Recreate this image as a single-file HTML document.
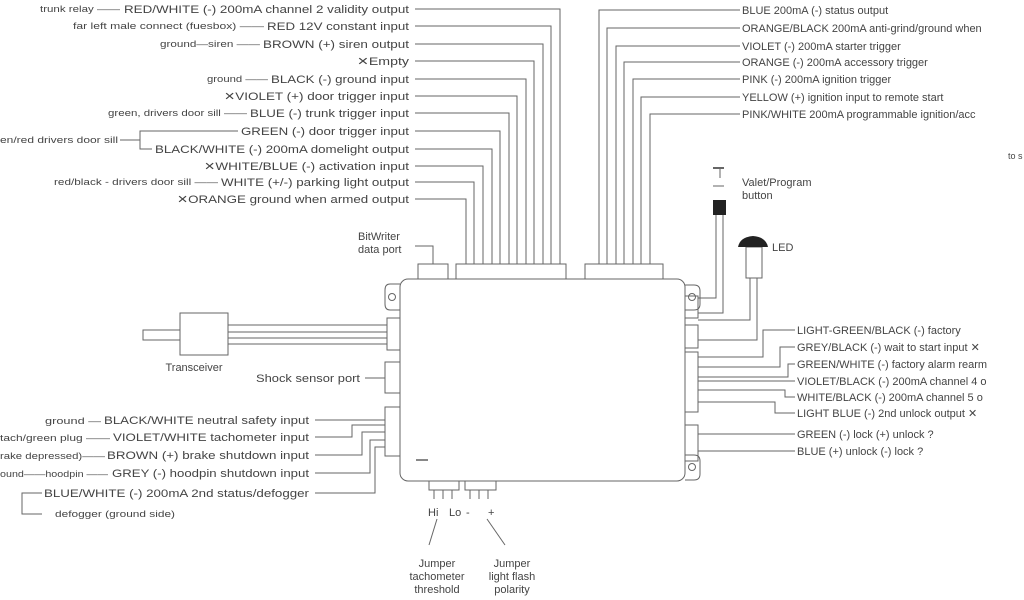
<!DOCTYPE html>
<html><head><meta charset="utf-8"><style>
html,body{margin:0;padding:0;background:#fff;}
svg{display:block;}
text{font-family:"Liberation Sans",sans-serif;fill:#444;}
.m{font-size:11px;}
.s{font-size:9px;}
</style></head><body>
<svg width="1024" height="600" viewBox="0 0 1024 600" xmlns="http://www.w3.org/2000/svg">
<g stroke="#666" stroke-width="1" fill="none">
<rect x="400" y="279" width="285" height="202" rx="8" fill="#fff"/>
<rect x="418" y="264" width="30" height="15"/>
<rect x="456" y="264" width="110" height="15"/>
<rect x="585" y="264" width="78" height="15"/>
<polyline points="415,246 433,246 433,264"/>
<path d="M400,284 H390 Q385,284 385,290 V304 Q385,310 390,310 H400"/>
<circle cx="392" cy="297" r="3.5"/>
<rect x="387" y="318" width="13" height="32"/>
<rect x="385" y="362" width="15" height="31"/>
<rect x="385" y="407" width="15" height="49"/>
<path d="M685,285 H694 Q700,285 700,291 V304 Q700,310 694,310 H685"/>
<circle cx="692" cy="297" r="3.5"/>
<path d="M685,455 H694 Q700,455 700,461 V474 Q700,480 694,480 H685"/>
<circle cx="692" cy="467" r="3.5"/>
<rect x="685" y="296" width="13" height="22"/>
<rect x="685" y="325" width="13" height="23"/>
<rect x="685" y="352" width="13" height="60"/>
<rect x="685" y="425" width="13" height="36"/>
<rect x="429" y="481" width="30" height="9"/>
<rect x="465" y="481" width="31" height="9"/>
<path d="M434,490V499 M443,490V499 M452,490V499 M470,490V499 M479,490V499 M488,490V499"/>
<path d="M437,519 L429,545 M487,519 L505,545"/>
<polyline points="415,9 560,9 560,264"/>
<polyline points="415,26 551,26 551,264"/>
<polyline points="415,44 543,44 543,264"/>
<polyline points="415,61 534,61 534,264"/>
<polyline points="415,79 526,79 526,264"/>
<polyline points="415,96 517,96 517,264"/>
<polyline points="415,113 509,113 509,264"/>
<polyline points="415,131 500,131 500,264"/>
<polyline points="415,149 492,149 492,264"/>
<polyline points="415,166 483,166 483,264"/>
<polyline points="415,182 474,182 474,264"/>
<polyline points="415,199 466,199 466,264"/>
<polyline points="238,131 140,131 140,149 152,149"/>
<line x1="120" y1="140" x2="140" y2="140"/>
<polyline points="740,10 599,10 599,264"/>
<polyline points="740,28 607,28 607,264"/>
<polyline points="740,46 616,46 616,264"/>
<polyline points="740,62 624,62 624,264"/>
<polyline points="740,79 633,79 633,264"/>
<polyline points="740,97 641,97 641,264"/>
<polyline points="740,114 650,114 650,264"/>
<line x1="713" y1="168" x2="724" y2="168" stroke-width="2"/>
<path d="M720,168 V178 M713,186 H724"/>
<polyline points="716,215 716,298 698,298"/>
<polyline points="723,215 723,313 698,313"/>
<rect x="746" y="247" width="16" height="31"/>
<polyline points="750,278 750,320 698,320"/>
<polyline points="757,278 757,340 698,340"/>
<polyline points="698,357 763,357 763,330 795,330"/>
<polyline points="698,367 780,367 780,347 795,347"/>
<polyline points="698,377 788,377 788,364 795,364"/>
<line x1="698" y1="381" x2="795" y2="381"/>
<polyline points="698,390 785,390 785,397 795,397"/>
<polyline points="698,402 775,402 775,413 795,413"/>
<line x1="698" y1="434" x2="795" y2="434"/>
<line x1="698" y1="451" x2="795" y2="451"/>
<rect x="180" y="313" width="48" height="42"/>
<rect x="143" y="330" width="37" height="10"/>
<path d="M228,325H387 M228,332H387 M228,338H387 M228,344H387"/>
<line x1="365" y1="378" x2="385" y2="378"/>
<polyline points="315,420 385,420"/>
<polyline points="315,437 352,437 352,425 385,425"/>
<polyline points="315,455 362,455 362,432 385,432"/>
<polyline points="315,473 370,473 370,440 385,440"/>
<polyline points="315,493 375,493 375,447 385,447"/>
<polyline points="42,493 22,493 22,514 42,514"/>
</g>
<rect x="713" y="200" width="13" height="15" fill="#222"/>
<path d="M738,247 Q740,237 753,236 Q766,237 768,247 Z" fill="#222"/>
<rect x="416" y="459" width="12" height="2" fill="#888"/>

<g class="m">
<text x="124" y="13" textLength="285" lengthAdjust="spacingAndGlyphs">RED/WHITE (-) 200mA channel 2 validity output</text>
<text x="267" y="30" textLength="142" lengthAdjust="spacingAndGlyphs">RED 12V constant input</text>
<text x="263" y="48" textLength="146" lengthAdjust="spacingAndGlyphs">BROWN  (+) siren output</text>
<text x="357" y="65" textLength="52" lengthAdjust="spacingAndGlyphs">✕Empty</text>
<text x="271" y="83" textLength="138" lengthAdjust="spacingAndGlyphs">BLACK (-) ground input</text>
<text x="224" y="100" textLength="185" lengthAdjust="spacingAndGlyphs">✕VIOLET (+) door trigger input</text>
<text x="250" y="117" textLength="159" lengthAdjust="spacingAndGlyphs">BLUE (-) trunk trigger input</text>
<text x="241" y="135" textLength="168" lengthAdjust="spacingAndGlyphs">GREEN (-) door trigger input</text>
<text x="155" y="153" textLength="254" lengthAdjust="spacingAndGlyphs">BLACK/WHITE (-) 200mA domelight output</text>
<text x="204" y="170" textLength="205" lengthAdjust="spacingAndGlyphs">✕WHITE/BLUE (-) activation input</text>
<text x="221" y="186" textLength="188" lengthAdjust="spacingAndGlyphs">WHITE (+/-) parking light output</text>
<text x="177" y="203" textLength="232" lengthAdjust="spacingAndGlyphs">✕ORANGE ground when armed output</text>
</g>
<g class="s">
<text x="40" y="12" textLength="80" lengthAdjust="spacingAndGlyphs">trunk relay ——</text>
<text x="73" y="29" textLength="191" lengthAdjust="spacingAndGlyphs">far left male connect (fuesbox) ——</text>
<text x="160" y="47" textLength="100" lengthAdjust="spacingAndGlyphs">ground—siren ——</text>
<text x="207" y="82" textLength="61" lengthAdjust="spacingAndGlyphs">ground ——</text>
<text x="108" y="116" textLength="139" lengthAdjust="spacingAndGlyphs">green, drivers door sill ——</text>
<text x="0" y="143" textLength="118" lengthAdjust="spacingAndGlyphs">en/red drivers door sill</text>
<text x="54" y="185" textLength="164" lengthAdjust="spacingAndGlyphs">red/black - drivers door sill ——</text>
</g>
<g class="m">
<text x="358" y="240">BitWriter</text>
<text x="358" y="253">data port</text>
<text x="742" y="14">BLUE 200mA (-) status output</text>
<text x="742" y="32">ORANGE/BLACK 200mA anti-grind/ground when</text>
<text x="742" y="50">VIOLET (-) 200mA starter trigger</text>
<text x="742" y="66">ORANGE (-) 200mA accessory trigger</text>
<text x="742" y="83">PINK (-) 200mA ignition trigger</text>
<text x="742" y="101">YELLOW (+) ignition input to remote start</text>
<text x="742" y="118">PINK/WHITE 200mA programmable ignition/acc</text>
<text x="1008" y="159" class="s">to s</text>
<text x="742" y="186">Valet/Program</text>
<text x="742" y="199">button</text>
<text x="772" y="251">LED</text>
<text x="797" y="334">LIGHT-GREEN/BLACK (-) factory</text>
<text x="797" y="351">GREY/BLACK (-) wait to start input ✕</text>
<text x="797" y="368">GREEN/WHITE (-) factory alarm rearm</text>
<text x="797" y="385">VIOLET/BLACK (-) 200mA channel 4 o</text>
<text x="797" y="401">WHITE/BLACK (-) 200mA channel 5 o</text>
<text x="797" y="417">LIGHT BLUE (-) 2nd unlock output ✕</text>
<text x="797" y="438">GREEN (-) lock (+) unlock ?</text>
<text x="797" y="455">BLUE (+) unlock (-) lock ?</text>
<text x="194" y="371" text-anchor="middle">Transceiver</text>
<text x="256" y="382" textLength="104" lengthAdjust="spacingAndGlyphs">Shock sensor port</text>
<text x="104" y="424" textLength="205" lengthAdjust="spacingAndGlyphs">BLACK/WHITE neutral safety input</text>
<text x="113" y="441" textLength="196" lengthAdjust="spacingAndGlyphs">VIOLET/WHITE tachometer input</text>
<text x="107" y="459" textLength="202" lengthAdjust="spacingAndGlyphs">BROWN (+) brake shutdown input</text>
<text x="112" y="477" textLength="197" lengthAdjust="spacingAndGlyphs">GREY (-) hoodpin shutdown input</text>
<text x="44" y="497" textLength="265" lengthAdjust="spacingAndGlyphs">BLUE/WHITE (-) 200mA 2nd status/defogger</text>
<text x="428" y="516">Hi</text>
<text x="449" y="516">Lo</text>
<text x="466" y="516">-</text>
<text x="488" y="516">+</text>
<text x="437" y="567" text-anchor="middle">Jumper</text>
<text x="437" y="580" text-anchor="middle">tachometer</text>
<text x="437" y="593" text-anchor="middle">threshold</text>
<text x="512" y="567" text-anchor="middle">Jumper</text>
<text x="512" y="580" text-anchor="middle">light flash</text>
<text x="512" y="593" text-anchor="middle">polarity</text>
</g>
<g class="s">
<text x="45" y="424" textLength="56" lengthAdjust="spacingAndGlyphs">ground —</text>
<text x="0" y="441" textLength="110" lengthAdjust="spacingAndGlyphs">tach/green plug ——</text>
<text x="0" y="459" textLength="105" lengthAdjust="spacingAndGlyphs">rake depressed)——</text>
<text x="0" y="477" textLength="108" lengthAdjust="spacingAndGlyphs">ound——hoodpin ——</text>
<text x="55" y="517" textLength="120" lengthAdjust="spacingAndGlyphs">defogger (ground side)</text>
</g>
</svg>
</body></html>
